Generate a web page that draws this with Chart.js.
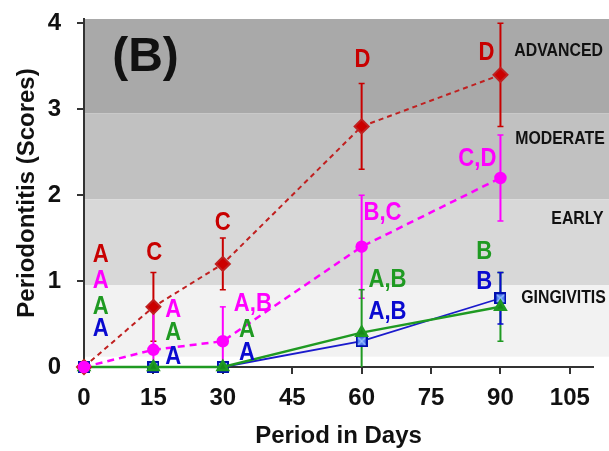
<!DOCTYPE html>
<html>
<head>
<meta charset="utf-8">
<script src="https://cdn.jsdelivr.net/npm/chart.js@4.4.1/dist/chart.umd.min.js"></script>
<style>
  html, body { margin: 0; padding: 0; background: #fff; }
</style>
</head>
<body>
<canvas id="chart" width="609" height="451"></canvas>
<script>
// Data
const days = [0, 15, 30, 60, 90];
const xTicks = [0, 15, 30, 45, 60, 75, 90, 105];
const yTicks = [0, 1, 2, 3, 4];

const redScores = [0, 0.7, 1.2, 2.8, 3.4];
const redErr = [0, 0.4, 0.3, 0.5, 0.6];
const pinkScores = [0, 0.2, 0.3, 1.4, 2.2];
const pinkErr = [0, 0.5, 0.4, 0.6, 0.5];
const greenScores = [0, 0, 0, 0.4, 0.7];
const greenErr = [0, 0, 0, 0.5, 0.4];
const blueScores = [0, 0, 0, 0.3, 0.8];
const blueErr = [0, 0, 0, 0, 0.3];

// severity bands (upper, lower edge) and names
const bandNames = ['ADVANCED', 'MODERATE', 'EARLY', 'GINGIVITIS'];
const bandEdges = [[4.05, 2.95], [2.95, 1.95], [1.95, 0.95], [0.95, 0.12]];
const bandLabelX = [93, 93.2, 101, 94.5];
const bandLabelY = [3.68, 2.65, 1.72, 0.8];

// significance letters: text, x, y, series
const letterText = ['A','A','A','A', 'C','A','A','A', 'C','A,B','A','A', 'D','B,C','A,B','A,B', 'D','C,D','B','B'];
const letterX = [3.6,3.6,3.6,3.6, 15.2,19.3,19.3,19.3, 30,36.5,35.2,35.2, 60.2,64.5,65.6,65.6, 87,85,86.5,86.5];
const letterY = [1.3,1.0,0.7,0.45, 1.33,0.67,0.4,0.12, 1.68,0.73,0.43,0.16, 3.58,1.8,1.02,0.64, 3.66,2.42,1.34,0.99];
const letterSeries = ['r','p','g','b', 'r','p','g','b', 'r','p','g','b', 'r','p','g','b', 'r','p','g','b'];

const colors = { r: '#c80000', p: '#ff00ff', g: '#1f9a22', b: '#0a0ad0' };
const bandColors = ['#a9a9a9', '#c1c1c1', '#d8d8d8', '#f2f2f2'];

const pts = (ys) => days.map((d, i) => ({ x: d, y: ys[i] }));

// blue square marker with cross
const boxMark = document.createElement('canvas');
boxMark.width = 12; boxMark.height = 12;
(function () {
  const c = boxMark.getContext('2d');
  c.fillStyle = '#4f7ff0';
  c.fillRect(0, 0, 12, 12);
  c.strokeStyle = '#9fc4ff';
  c.lineWidth = 1.2;
  c.beginPath(); c.moveTo(2, 2); c.lineTo(10, 10); c.moveTo(10, 2); c.lineTo(2, 10); c.stroke();
  c.strokeStyle = '#0010b0';
  c.lineWidth = 2;
  c.strokeRect(1, 1, 10, 10);
})();

// narrow bold text (squeezed sideways)
function narrowText(ctx, t, x, y, sx) {
  ctx.save();
  ctx.translate(x, y);
  ctx.scale(sx, 1);
  ctx.fillText(t, 0, 0);
  ctx.restore();
}

const bandPlugin = {
  id: 'bands',
  beforeDraw(chart) {
    const { ctx, chartArea, scales } = chart;
    ctx.save();
    bandEdges.forEach((b, i) => {
      const top = scales.y.getPixelForValue(b[0]);
      const bot = scales.y.getPixelForValue(b[1]);
      ctx.fillStyle = bandColors[i];
      ctx.fillRect(chartArea.left, top, chart.width - chartArea.left, bot - top);
    });
    ctx.restore();
  },
  afterDatasetsDraw(chart) {
    const { ctx, scales } = chart;
    ctx.save();
    ctx.textBaseline = 'middle';
    ctx.fillStyle = '#111';
    ctx.textAlign = 'left';
    ctx.font = 'bold 18px "Liberation Sans", Arial, sans-serif';
    bandNames.forEach((n, i) => {
      narrowText(ctx, n, scales.x.getPixelForValue(bandLabelX[i]), scales.y.getPixelForValue(bandLabelY[i]), 0.88);
    });
    ctx.textAlign = 'center';
    ctx.font = 'bold 26px "Liberation Sans", Arial, sans-serif';
    letterText.forEach((t, i) => {
      ctx.fillStyle = colors[letterSeries[i]];
      narrowText(ctx, t, scales.x.getPixelForValue(letterX[i]), scales.y.getPixelForValue(letterY[i]), 0.85);
    });
    ctx.fillStyle = '#111';
    ctx.font = 'bold 48px "Liberation Sans", Arial, sans-serif';
    ctx.fillText('(B)', scales.x.getPixelForValue(13.3), scales.y.getPixelForValue(3.6));
    ctx.restore();
  }
};

const errSets = [
  { ys: redScores, err: redErr, c: colors.r },
  { ys: pinkScores, err: pinkErr, c: colors.p },
  { ys: greenScores, err: greenErr, c: colors.g },
  { ys: blueScores, err: blueErr, c: colors.b }
];

const errorBarPlugin = {
  id: 'errorBars',
  beforeDatasetsDraw(chart) {
    const { ctx, scales } = chart;
    ctx.save();
    ctx.lineWidth = 2;
    errSets.forEach(s => {
      ctx.strokeStyle = s.c;
      days.forEach((d, i) => {
        if (!s.err[i]) return;
        const x = scales.x.getPixelForValue(d);
        const hi = scales.y.getPixelForValue(s.ys[i] + s.err[i]);
        const lo = scales.y.getPixelForValue(Math.max(0, s.ys[i] - s.err[i]));
        ctx.beginPath();
        ctx.moveTo(x, hi); ctx.lineTo(x, lo);
        ctx.stroke();
        ctx.lineWidth = 1.5;
        ctx.beginPath();
        ctx.moveTo(x - 3, hi); ctx.lineTo(x + 3, hi);
        if (s.ys[i] - s.err[i] > 0) { ctx.moveTo(x - 3, lo); ctx.lineTo(x + 3, lo); }
        ctx.stroke();
        ctx.lineWidth = 2;
      });
    });
    ctx.restore();
  }
};

const tickFont = { family: '"Liberation Sans", Arial, sans-serif', size: 24, weight: 'bold' };
const titleFont = { family: '"Liberation Sans", Arial, sans-serif', size: 24, weight: 'bold' };

new Chart(document.getElementById('chart'), {
  type: 'line',
  data: {
    datasets: [
      {
        data: pts(pinkScores), borderColor: colors.p, backgroundColor: colors.p,
        borderWidth: 2.5, borderDash: [7, 5], pointStyle: 'circle', pointRadius: 5, clip: false
      },
      {
        data: pts(redScores), borderColor: '#c02020', backgroundColor: '#cc0000',
        borderWidth: 2, borderDash: [5, 4], pointStyle: 'rectRot', pointRadius: 7, clip: false
      },
      {
        data: pts(greenScores), borderColor: colors.g, backgroundColor: '#178a1a',
        borderWidth: 2.5, pointStyle: 'triangle', pointRadius: 6, clip: false
      },
      {
        data: pts(blueScores), borderColor: '#1a1acc', backgroundColor: '#1a1acc',
        borderWidth: 1.8, pointStyle: boxMark, clip: false
      }
    ]
  },
  options: {
    responsive: false,
    animation: false,
    layout: { padding: { top: 19, right: 16, left: 0, bottom: 0 } },
    plugins: { legend: { display: false }, tooltip: { enabled: false } },
    scales: {
      x: {
        type: 'linear', min: 0, max: 110,
        afterBuildTicks: (s) => { s.ticks = xTicks.map(v => ({ value: v })); },
        afterFit: (s) => { s.height = 84; s.paddingLeft = 0; s.paddingRight = 0; },
        grid: { drawOnChartArea: false, drawTicks: true, tickLength: 7, color: '#333', lineWidth: 2 },
        border: { color: '#333', width: 2 },
        ticks: { font: tickFont, color: '#111', padding: 10, maxRotation: 0 },
        title: { display: true, text: 'Period in Days', font: titleFont, color: '#111', padding: { top: 0, bottom: 0 } }
      },
      y: {
        min: 0, max: 4.05,
        afterBuildTicks: (s) => { s.ticks = yTicks.map(v => ({ value: v })); },
        afterFit: (s) => { s.width = 84; s.paddingTop = 0; s.paddingBottom = 0; },
        grid: { drawOnChartArea: false, drawTicks: true, tickLength: 7, color: '#333', lineWidth: 2 },
        border: { color: '#333', width: 2 },
        ticks: { font: tickFont, color: '#111', padding: 16 },
        title: { display: true, text: 'Periodontitis (Scores)', font: titleFont, color: '#111', padding: { top: 13, bottom: 0 } }
      }
    }
  },
  plugins: [bandPlugin, errorBarPlugin]
});
</script>
</body>
</html>
